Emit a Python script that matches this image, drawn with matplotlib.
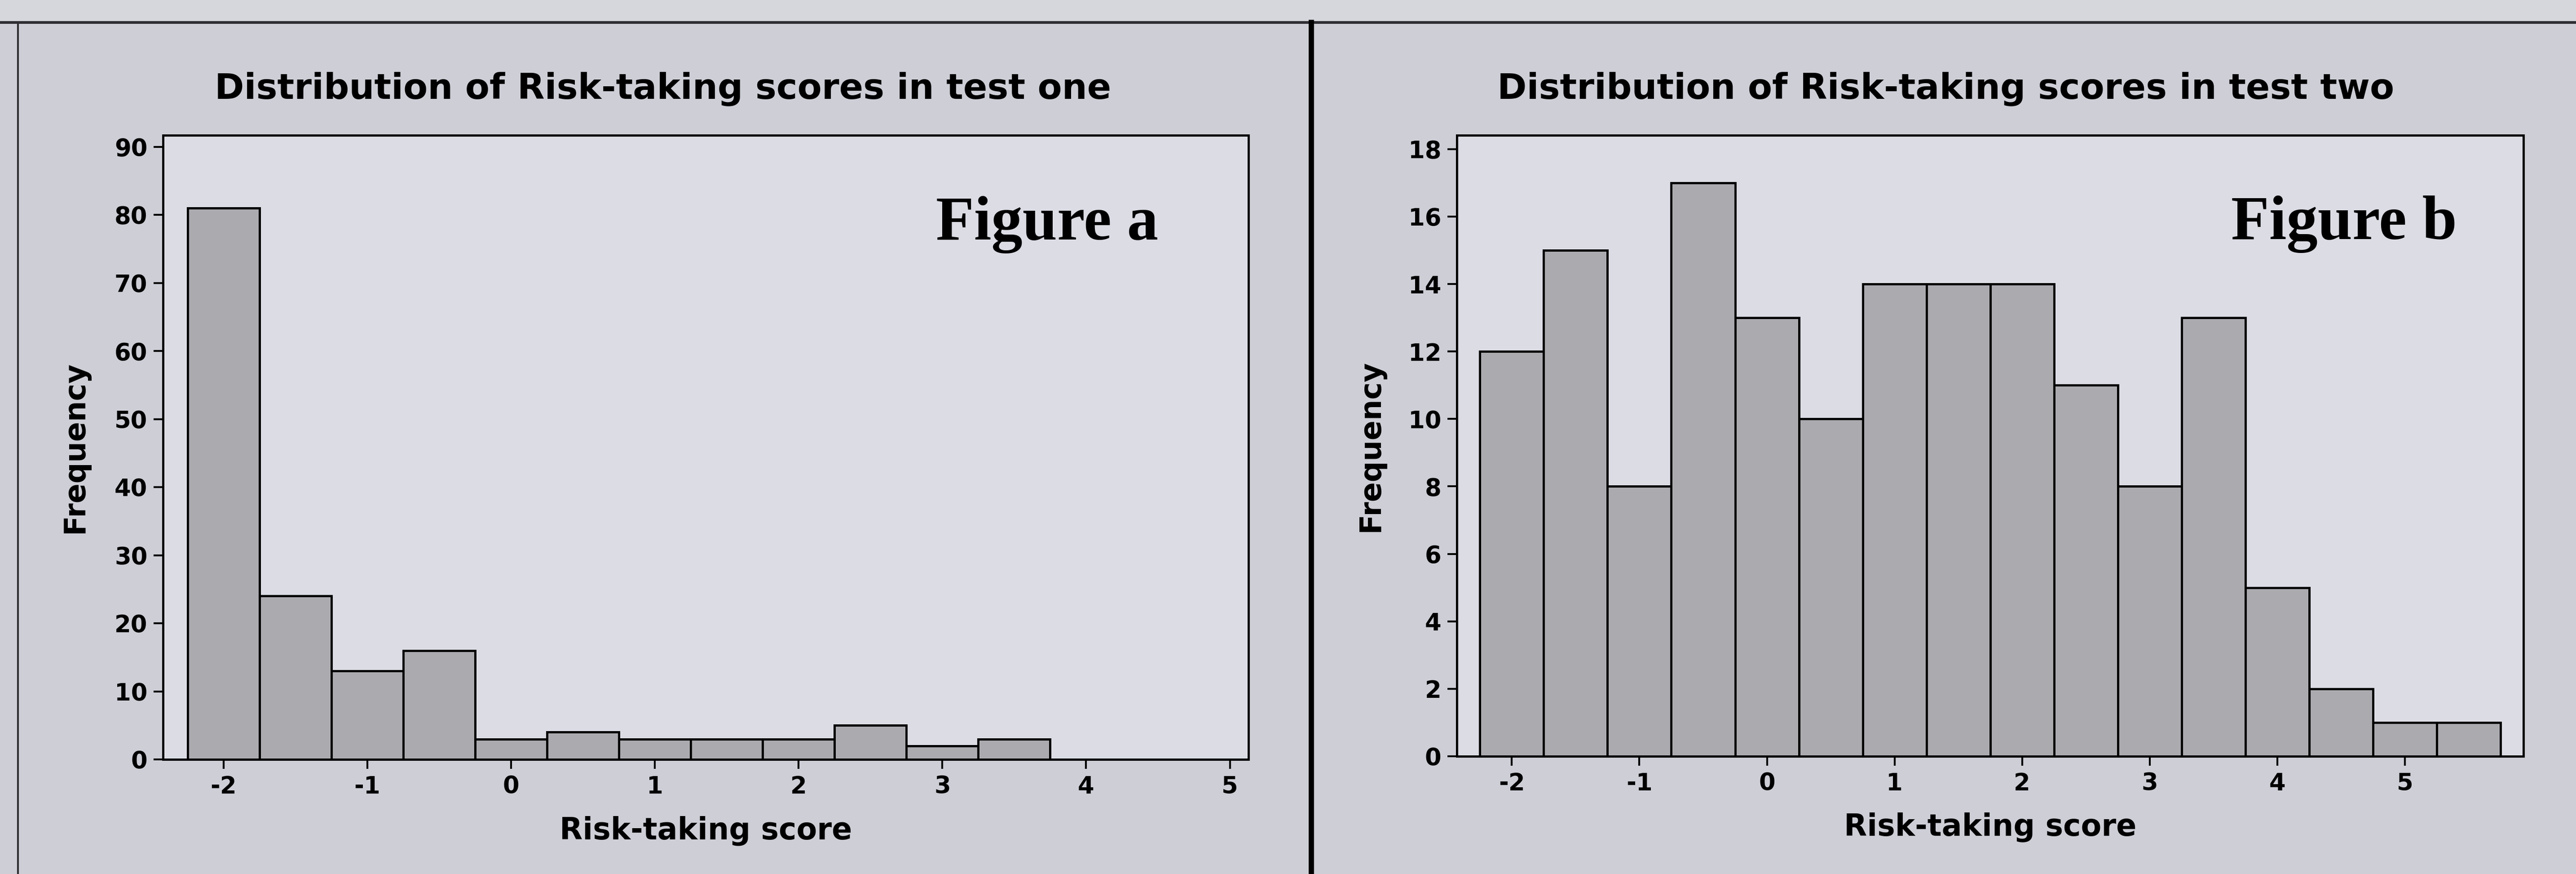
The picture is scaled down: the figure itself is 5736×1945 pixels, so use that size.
import matplotlib
matplotlib.use("Agg")
import matplotlib.pyplot as plt
from matplotlib.lines import Line2D
from matplotlib.patches import Rectangle

# histogram data (bin centres, bin width 0.5)
scores_one = [-2, -1.5, -1, -0.5, 0, 0.5, 1, 1.5, 2, 2.5, 3, 3.5]
freq_one = [81, 24, 13, 16, 3, 4, 3, 3, 3, 5, 2, 3]

scores_two = [-2, -1.5, -1, -0.5, 0, 0.5, 1, 1.5, 2, 2.5, 3, 3.5, 4, 4.5, 5, 5.5]
freq_two = [12, 15, 8, 17, 13, 10, 14, 14, 14, 11, 8, 13, 5, 2, 1, 1]

xticks = [-2, -1, 0, 1, 2, 3, 4, 5]
yticks_one = list(range(0, 91, 10))
yticks_two = list(range(0, 19, 2))

titles = ["Distribution of Risk-taking scores in test one",
          "Distribution of Risk-taking scores in test two"]
tags = ["Figure a", "Figure b"]

plt.rcParams['axes.unicode_minus'] = False

fig_bg = "#cdced6"
ax_bg = "#dbdce4"
bar_col = "#aaaaaf"

fig = plt.figure(figsize=(28.68, 9.725), dpi=200, facecolor=fig_bg)

# lighter strip above the panel frame
fig.add_artist(Rectangle((0, 0.9743), 1, 0.03, transform=fig.transFigure,
                         facecolor="#d6d7dd", edgecolor="none"))

ax1 = fig.add_axes([0.0633, 0.1311, 0.4214, 0.7141])
ax2 = fig.add_axes([0.5656, 0.1347, 0.4140, 0.7105])

panels = [
    (ax1, scores_one, freq_one, yticks_one, (-2.42, 5.13), 91.7, 0.2573, 0.712),
    (ax2, scores_two, freq_two, yticks_two, (-2.43, 5.93), 18.41, 0.7554, 0.726),
]

for i, (ax, xs, ys, yt, xlim, ytop, tx, fx) in enumerate(panels):
    ax.set_facecolor(ax_bg)
    ax.bar(xs, ys, width=0.5, color=bar_col, edgecolor="black", linewidth=1.8)
    ax.set_xlim(*xlim)
    ax.set_ylim(0, ytop)
    ax.set_xticks(xticks)
    ax.set_yticks(yt)
    ax.tick_params(direction="out", length=7.5, width=1.5, labelsize=19,
                   top=False, right=False, pad=5)
    for lab in ax.get_xticklabels() + ax.get_yticklabels():
        lab.set_fontweight("bold")
        lab.set_family("DejaVu Sans")
    for sp in ax.spines.values():
        sp.set_linewidth(1.8)
        sp.set_color("black")

    ax.set_xlabel("Risk-taking score", family="DejaVu Sans", fontweight="bold",
                  fontsize=24)
    ax.xaxis.set_label_coords(0.5, -0.09)
    ax.set_ylabel("Frequency", family="DejaVu Sans", fontweight="bold",
                  fontsize=23.5, va="center")
    ax.yaxis.set_label_coords(-0.081, 0.5)

    ax.text(fx, 0.833, tags[i], transform=ax.transAxes, family="Liberation Serif",
            fontweight="bold", fontsize=50, ha="left", va="baseline")

    fig.text(tx, 0.887, titles[i], family="DejaVu Sans", fontweight="bold",
             fontsize=28.4, ha="center", va="baseline")

# panel frame lines
frame = "#2e2e33"
fig.add_artist(Line2D([0, 1], [0.9743, 0.9743], color=frame, lw=2.2,
                      transform=fig.transFigure))
fig.add_artist(Line2D([0.007, 0.007], [0, 0.9743], color=frame, lw=1.5,
                      transform=fig.transFigure))
fig.add_artist(Line2D([0.5091, 0.5091], [0, 0.9743], color="black", lw=4.3,
                      transform=fig.transFigure))

fig.savefig("out.png", dpi=200, facecolor=fig_bg)
